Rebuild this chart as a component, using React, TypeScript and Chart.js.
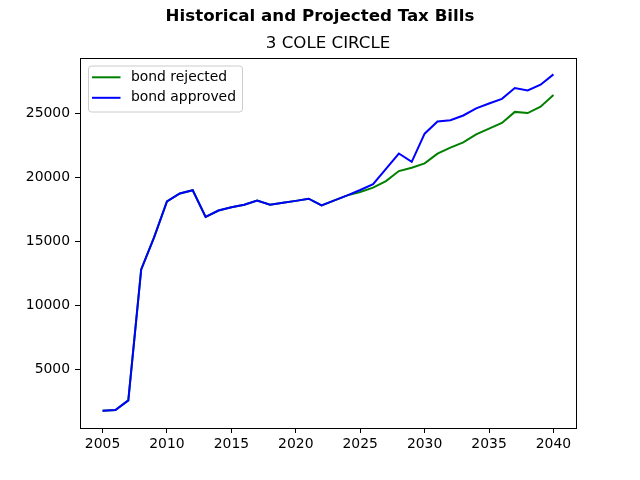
import React, { useEffect, useRef } from "react";
import { Chart, registerables } from "chart.js";

Chart.register(...registerables);

const years: number[] = [
  2005, 2006, 2007, 2008, 2009, 2010, 2011, 2012, 2013, 2014, 2015, 2016,
  2017, 2018, 2019, 2020, 2021, 2022, 2023, 2024, 2025, 2026, 2027, 2028,
  2029, 2030, 2031, 2032, 2033, 2034, 2035, 2036, 2037, 2038, 2039, 2040,
];

// Tax bill if the bond is rejected
const bondRejected: number[] = [
  1800, 1870, 2620, 12850, 15350, 18150, 18780, 19030, 16950, 17450, 17700,
  17900, 18220, 17900, 18050, 18200, 18370, 17850, 18240, 18630, 18900,
  19230, 19750, 20530, 20790, 21130, 21890, 22360, 22770, 23400, 23850,
  24290, 25150, 25060, 25560, 26470,
];

// Tax bill if the bond is approved
const bondApproved: number[] = [
  1800, 1870, 2620, 12850, 15350, 18150, 18780, 19030, 16950, 17450, 17700,
  17900, 18220, 17900, 18050, 18200, 18370, 17850, 18240, 18630, 19050,
  19500, 20700, 21900, 21250, 23450, 24400, 24500, 24870, 25430, 25810,
  26170, 27010, 26830, 27270, 28080,
];

const xTicks: number[] = [2005, 2010, 2015, 2020, 2025, 2030, 2035, 2040];
const yTicks: number[] = [5000, 10000, 15000, 20000, 25000];

const suptitle = "Historical and Projected Tax Bills";
const subtitle = "3 COLE CIRCLE";
const seriesNames = ["bond rejected", "bond approved"];
const seriesColors = ["#008000", "#0000ff"];

const FONT = "'DejaVu Sans', sans-serif";

const decorations = {
  id: "decorations",
  afterDraw(chart: Chart) {
    const ctx = chart.ctx;
    const a = chart.chartArea;
    ctx.save();
    // frame
    ctx.strokeStyle = "#000";
    ctx.lineWidth = 1;
    ctx.strokeRect(Math.round(a.left) + 0.5, Math.round(a.top) + 0.5, Math.round(a.right - a.left), Math.round(a.bottom - a.top));

    // titles
    ctx.fillStyle = "#000";
    ctx.textAlign = "center";
    ctx.textBaseline = "middle";
    ctx.font = `bold 16.67px ${FONT}`;
    ctx.fillText(suptitle, 320, 17);
    ctx.font = `16.67px ${FONT}`;
    ctx.fillText(subtitle, (a.left + a.right) / 2, 44);

    // legend
    const lx = a.left + 8;
    const ly = a.top + 7.5;
    const lw = 154;
    const lh = 46;
    ctx.beginPath();
    ctx.roundRect(lx + 0.5, ly + 0.5, lw, lh, 3);
    ctx.fillStyle = "rgba(255,255,255,0.8)";
    ctx.fill();
    ctx.strokeStyle = "#cccccc";
    ctx.lineWidth = 1;
    ctx.stroke();
    ctx.font = `13.9px ${FONT}`;
    ctx.textAlign = "left";
    seriesNames.forEach((name, i) => {
      const y = ly + 11.8 + i * 20.5;
      ctx.strokeStyle = seriesColors[i];
      ctx.lineWidth = 2;
      ctx.beginPath();
      ctx.moveTo(lx + 4, y);
      ctx.lineTo(lx + 32.5, y);
      ctx.stroke();
      ctx.fillStyle = "#000";
      ctx.fillText(name, lx + 43, y);
    });
    ctx.restore();
  },
};

export default function App() {
  const canvasRef = useRef<HTMLCanvasElement | null>(null);

  useEffect(() => {
    if (!canvasRef.current) return;
    const chart = new Chart(canvasRef.current, {
      type: "line",
      data: {
        datasets: [
          {
            label: seriesNames[0],
            data: years.map((x, i) => ({ x, y: bondRejected[i] })),
            borderColor: seriesColors[0],
            borderWidth: 2,
            pointRadius: 0,
            tension: 0,
            order: 1,
          },
          {
            label: seriesNames[1],
            data: years.map((x, i) => ({ x, y: bondApproved[i] })),
            borderColor: seriesColors[1],
            borderWidth: 2,
            pointRadius: 0,
            tension: 0,
            order: 0,
          },
        ],
      },
      options: {
        animation: false,
        responsive: false,
        maintainAspectRatio: false,
        layout: { padding: { left: 0, right: 64, top: 58, bottom: 0 } },
        plugins: {
          legend: { display: false },
          tooltip: { enabled: false },
          title: { display: false },
        },
        scales: {
          x: {
            type: "linear",
            min: 2003.25,
            max: 2041.75,
            afterBuildTicks: (s: any) => {
              s.ticks = xTicks.map((v) => ({ value: v }));
            },
            afterFit: (s: any) => {
              s.height = 52;
            },
            grid: {
              drawOnChartArea: false,
              drawTicks: true,
              tickLength: 5,
              color: "#000",
            },
            border: { display: true, color: "#000", width: 1 },
            ticks: {
              color: "#000",
              font: { family: FONT, size: 13.9 },
              padding: 3,
              maxRotation: 0,
              callback: (v: any) => String(v),
            },
          },
          y: {
            type: "linear",
            min: 460,
            max: 29360,
            afterBuildTicks: (s: any) => {
              s.ticks = yTicks.map((v) => ({ value: v }));
            },
            afterFit: (s: any) => {
              s.width = 80;
            },
            grid: {
              drawOnChartArea: false,
              drawTicks: true,
              tickLength: 5,
              color: "#000",
            },
            border: { display: true, color: "#000", width: 1 },
            ticks: {
              color: "#000",
              font: { family: FONT, size: 13.9 },
              padding: 5,
              callback: (v: any) => String(v),
            },
          },
        },
      },
      plugins: [decorations],
    });
    return () => chart.destroy();
  }, []);

  return (
    <div style={{ position: "fixed", left: 0, top: 0, width: 640, height: 480, background: "#fff" }}>
      <canvas ref={canvasRef} width={640} height={480} style={{ width: 640, height: 480 }} />
    </div>
  );
}
